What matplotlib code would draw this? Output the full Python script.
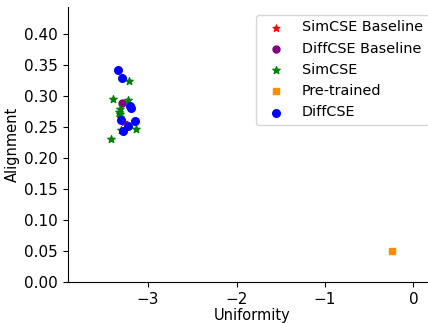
import matplotlib
matplotlib.use("Agg")
import matplotlib.pyplot as plt

simcse_base_x = [-3.276]
simcse_base_y = [0.257]
diffcse_base_x = [-3.30]
diffcse_base_y = [0.289]
simcse_x = [-3.216, -3.393, -3.228, -3.314, -3.330, -3.322, -3.318, -3.140, -3.416, -3.305]
simcse_y = [0.324, 0.295, 0.293, 0.278, 0.274, 0.270, 0.266, 0.246, 0.231, 0.245]
pre_x = [-0.245]
pre_y = [0.0498]
diffcse_x = [-3.34, -3.29, -3.205, -3.195, -3.31, -3.15, -3.23, -3.28]
diffcse_y = [0.341, 0.329, 0.283, 0.281, 0.261, 0.259, 0.252, 0.244]

plt.rcParams['font.size'] = 11
fig = plt.figure(figsize=(4.28, 3.23), dpi=100)
ax = fig.add_axes([0.158, 0.126, 0.861, 0.851])
ax.scatter(simcse_base_x, simcse_base_y, marker='*', color='red', s=25, label='SimCSE Baseline')
ax.scatter(diffcse_base_x, diffcse_base_y, marker='o', color='purple', s=25, label='DiffCSE Baseline')
ax.scatter(simcse_x, simcse_y, marker='*', color='green', s=30, label='SimCSE')
ax.scatter(pre_x, pre_y, marker='s', color='darkorange', s=25, label='Pre-trained')
ax.scatter(diffcse_x, diffcse_y, marker='o', color='blue', s=30, label='DiffCSE')
ax.set_xlim(-3.91, 0.257)
ax.set_ylim(0, 0.442)
ax.set_xticks([-3, -2, -1, 0])
ax.set_yticks([0.0, 0.05, 0.10, 0.15, 0.20, 0.25, 0.30, 0.35, 0.40])
ax.set_xlabel('Uniformity', labelpad=1, fontsize=10.5)
ax.set_ylabel('Alignment', labelpad=3, fontsize=10.5)
ax.spines['top'].set_visible(False)
ax.spines['right'].set_visible(False)
ax.legend(loc='upper right', fontsize=10.4, labelspacing=0.5)
fig.savefig('out.png', dpi=100)
